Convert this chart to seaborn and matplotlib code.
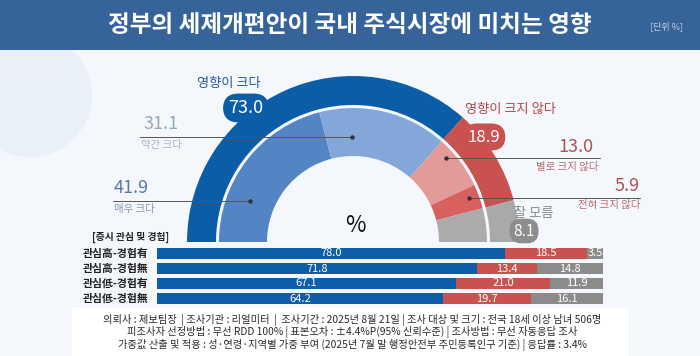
import matplotlib
matplotlib.use("Agg")
import matplotlib.pyplot as plt
from matplotlib.patches import Rectangle, Circle
import numpy as np
import pandas as pd
import seaborn as sns

# ---------------- data ----------------
title = "정부의 세제개편안이 국내 주식시장에 미치는 영향"
unit_label = "[단위 %]"

outer_labels = ["영향이 크다", "영향이 크지 않다", "잘 모름"]
outer_values = [73.0, 18.9, 8.1]

inner_labels = ["매우 크다", "약간 크다", "별로 크지 않다", "전혀 크지 않다", "잘 모름"]
inner_values = [41.9, 31.1, 13.0, 5.9, 8.1]

group_title = "[증시 관심 및 경험]"
groups = ["관심高-경험有", "관심高-경험無", "관심低-경험有", "관심低-경험無"]
big_vals = [78.0, 71.8, 67.1, 64.2]
notbig_vals = [18.5, 13.4, 21.0, 19.7]
dk_vals = [3.5, 14.8, 11.9, 16.1]

footer_lines = [
    "의뢰사 : 제보팀장  | 조사기관 : 리얼미터  |  조사기간 : 2025년 8월 21일 | 조사 대상 및 크기 : 전국 18세 이상 남녀 506명",
    "피조사자 선정방법 : 무선 RDD 100% | 표본오차 : ±4.4%P(95% 신뢰수준) | 조사방법 : 무선 자동응답 조사",
    "가중값 산출 및 적용 : 성·연령·지역별 가중 부여 (2025년 7월 말 행정안전부 주민등록인구 기준) | 응답률 : 3.4%",
]

# ---------------- style ----------------
sns.set_theme(style="white")
plt.rcParams["font.family"] = ["Noto Sans CJK KR", "DejaVu Sans"]

BG = "#F4F8FC"
BAND = "#35639A"
outer_colors = ["#0B5DA7", "#C9514F", "#A9A9A9"]
inner_colors = ["#5384C4", "#83A7D9", "#E39B9A", "#D8615F", "#ABABAB"]
BAR_BLUE, BAR_RED, BAR_GRAY = "#0D5DA8", "#C8524F", "#8B8B8B"

W, H = 700, 356
fig = plt.figure(figsize=(W / 100, H / 100), dpi=100)
fig.patch.set_facecolor(BG)

ax = fig.add_axes([0, 0, 1, 1])
ax.set_facecolor(BG)


def Y(py):
    return H - py


# decorative faint circle
ax.add_patch(Circle((30, Y(95)), 62, color="#EAF0F7", lw=0, zorder=0))

# title band
ax.add_patch(Rectangle((0, Y(50)), W, 50, color=BAND, lw=0, zorder=1))
ax.text(350, Y(25), title, ha="center", va="center", color="white",
        fontsize=17, fontweight="bold", zorder=2)
ax.text(683, Y(26), unit_label, ha="right", va="center", color="#C3D1E4",
        fontsize=6.5, zorder=2)

# footer white box
ax.add_patch(Rectangle((72, 0), 556, H - 308, color="white", lw=0, zorder=1))

# ---------------- donut (half) ----------------
cx, cy = 353, Y(242)
ax.pie(outer_values + [sum(outer_values)], colors=outer_colors + ["none"],
       startangle=180, counterclock=False, radius=166, center=(cx, cy),
       wedgeprops=dict(width=29, linewidth=0), frame=True)
ax.pie(inner_values + [sum(inner_values)], colors=inner_colors + ["none"],
       startangle=180, counterclock=False, radius=134, center=(cx, cy),
       wedgeprops=dict(width=48, linewidth=0), frame=True)
ax.set_xlim(0, W)
ax.set_ylim(0, H)
ax.set_aspect("auto")
ax.axis("off")

ax.text(355, Y(226), "%", ha="center", va="center", fontsize=16, color="#111")

# outer labels with pills
ax.text(229, Y(84), outer_labels[0], ha="center", va="center", fontsize=9.5,
        color="#245A97", fontweight="medium")
ax.text(246, Y(108), f"{outer_values[0]:.1f}", ha="center", va="center",
        fontsize=13, color="white",
        bbox=dict(boxstyle="round,pad=0.3,rounding_size=0.85", fc="#0B5DA7", ec="none"))

ax.text(510, Y(109), outer_labels[1], ha="center", va="center", fontsize=9.5,
        color="#B3464A", fontweight="medium")
ax.text(484, Y(137), f"{outer_values[1]:.1f}", ha="center", va="center",
        fontsize=12, color="white",
        bbox=dict(boxstyle="round,pad=0.3,rounding_size=0.85", fc="#C9514F", ec="none"))

ax.text(534, Y(213), outer_labels[2], ha="center", va="center", fontsize=9.5,
        color="#8A8A8A")
ax.text(524, Y(231), f"{outer_values[2]:.1f}", ha="center", va="center",
        fontsize=11, color="white",
        bbox=dict(boxstyle="round,pad=0.25,rounding_size=0.75", fc="#8D8D8D", ec="none"))

# inner labels with leader lines
def leader(x0, x1, py, dot_x):
    ax.plot([x0, x1], [Y(py), Y(py)], color="#555555", lw=0.7, zorder=5)
    ax.plot([dot_x], [Y(py)], "o", ms=2.2, color="#333333", zorder=6)

# 41.9 (매우 크다)
ax.text(114, Y(188), f"{inner_values[0]:.1f}", ha="left", va="center",
        fontsize=13, color="#5878AA")
ax.text(114, Y(209), inner_labels[0], ha="left", va="center", fontsize=7.5,
        color="#8898B6")
leader(113, 250, 201, 250)

# 31.1 (약간 크다)
ax.text(143, Y(124), f"{inner_values[1]:.1f}", ha="left", va="center",
        fontsize=13, color="#92A7C4")
ax.text(141, Y(145), inner_labels[1], ha="left", va="center", fontsize=7.5,
        color="#A6B3C8")
leader(140, 352, 137, 352)

# 13.0 (별로 크지 않다)
ax.text(593, Y(147), f"{inner_values[2]:.1f}", ha="right", va="center",
        fontsize=13, color="#AE5156")
ax.text(599, Y(167), inner_labels[2], ha="right", va="center", fontsize=7.5,
        color="#B86A6E")
leader(446, 600, 158, 446)

# 5.9 (전혀 크지 않다)
ax.text(640, Y(186), f"{inner_values[3]:.1f}", ha="right", va="center",
        fontsize=13, color="#AE5156")
ax.text(640, Y(205), inner_labels[3], ha="right", va="center", fontsize=7.5,
        color="#B86A6E")
leader(469, 640, 198, 469)

# ---------------- stacked bars ----------------
df = pd.DataFrame({"group": groups, "big": big_vals,
                   "notbig": notbig_vals, "dk": dk_vals})
df["cum2"] = df["big"] + df["notbig"]
df["cum3"] = df["cum2"] + df["dk"]

ax_b = fig.add_axes([157 / W, 1 - 306 / H, 446 / W, 60 / H])
ax_b.patch.set_alpha(0)
sns.barplot(data=df, x="cum3", y="group", color=BAR_GRAY, saturation=1,
            orient="h", width=0.73, linewidth=0, ax=ax_b)
sns.barplot(data=df, x="cum2", y="group", color=BAR_RED, saturation=1,
            orient="h", width=0.73, linewidth=0, ax=ax_b)
sns.barplot(data=df, x="big", y="group", color=BAR_BLUE, saturation=1,
            orient="h", width=0.73, linewidth=0, ax=ax_b)
ax_b.set_xlim(0, 100)
ax_b.axis("off")

for i, row in df.iterrows():
    b, r, d = row["big"], row["notbig"], row["dk"]
    kw = dict(ha="center", va="center", color="white", fontsize=8,
              fontweight="medium")
    ax_b.text(b / 2, i, f"{b:.1f}", **kw)
    ax_b.text(b + r / 2, i, f"{r:.1f}", **kw)
    ax_b.text(b + r + d / 2, i, f"{d:.1f}", **kw)
    ax_b.text(-2.0, i, row["group"], ha="right", va="center", fontsize=7.8,
              fontweight="bold", color="#222222")

ax.text(92, Y(237), group_title, ha="left", va="center", fontsize=7,
        fontweight="bold", color="#222222")

# ---------------- footer ----------------
for k, line in enumerate(footer_lines):
    ax.text(352, Y(320 + 12.5 * k), line, ha="center", va="center",
            fontsize=7.4, color="#2A2A2A")

fig.savefig("out.png", dpi=100, facecolor=fig.get_facecolor())
